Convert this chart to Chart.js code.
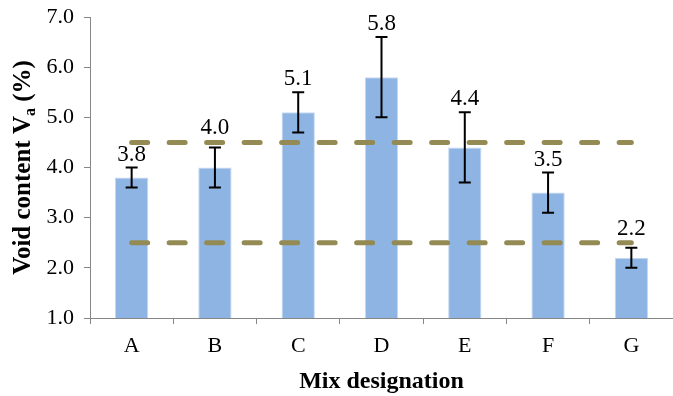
<!DOCTYPE html>
<html>
<head>
<meta charset="utf-8">
<script src="https://cdn.jsdelivr.net/npm/chart.js@4"></script>
<style>
  html, body { margin: 0; padding: 0; background: #fff; }
  #wrap { width: 673px; height: 396px; }
</style>
</head>
<body>
<div id="wrap"><canvas id="voidChart"></canvas></div>
<script>
const mixes = ['A', 'B', 'C', 'D', 'E', 'F', 'G'];
const voidContent = [3.8, 4.0, 5.1, 5.8, 4.4, 3.5, 2.2];
const voidError = [0.2, 0.4, 0.4, 0.8, 0.7, 0.4, 0.2];
const upperLimit = [4.5, 4.5, 4.5, 4.5, 4.5, 4.5, 4.5];
const lowerLimit = [2.5, 2.5, 2.5, 2.5, 2.5, 2.5, 2.5];

const serif = "'Liberation Serif', 'Times New Roman', serif";

// error bars + value labels drawn over the bars
const errorBars = {
  id: 'errorBars',
  afterDatasetsDraw(chart) {
    const ctx = chart.ctx;
    const yScale = chart.scales.y;
    const meta = chart.getDatasetMeta(0);
    const limits = [upperLimit[0], lowerLimit[0]].map(v => yScale.getPixelForValue(v));
    ctx.save();
    ctx.strokeStyle = '#000';
    ctx.lineWidth = 2;
    meta.data.forEach((bar, i) => {
      const x = bar.x;
      const top = yScale.getPixelForValue(voidContent[i] + voidError[i]);
      const bot = yScale.getPixelForValue(voidContent[i] - voidError[i]);
      ctx.beginPath();
      ctx.moveTo(x, top); ctx.lineTo(x, bot);
      ctx.moveTo(x - 6, top); ctx.lineTo(x + 6, top);
      ctx.moveTo(x - 6, bot); ctx.lineTo(x + 6, bot);
      ctx.stroke();
      // keep the label clear of the dashed limit lines
      let base = top - 7;
      limits.forEach(ly => {
        if (ly + 3 > base - 14 && ly - 3 < base) base = ly - 8;
      });
      ctx.fillStyle = '#000';
      ctx.font = '23px ' + serif;
      ctx.textAlign = 'center';
      ctx.textBaseline = 'alphabetic';
      ctx.fillText(voidContent[i].toFixed(1), x, base);
    });
    ctx.restore();
  }
};

// y title with subscript "a"
const yTitle = {
  id: 'yTitle',
  afterDraw(chart) {
    const ctx = chart.ctx;
    const area = chart.chartArea;
    const big = 'bold 25px ' + serif;
    const small = 'bold 16px ' + serif;
    const p1 = 'Void content V', p2 = 'a', p3 = ' (%)';
    ctx.save();
    ctx.font = big;
    const w1 = ctx.measureText(p1).width, w3 = ctx.measureText(p3).width;
    ctx.font = small;
    const w2 = ctx.measureText(p2).width;
    const total = w1 + w2 + w3;
    ctx.translate(30, (area.top + area.bottom) / 2);
    ctx.rotate(-Math.PI / 2);
    ctx.fillStyle = '#000';
    ctx.textBaseline = 'alphabetic';
    ctx.textAlign = 'left';
    let x = -total / 2;
    ctx.font = big; ctx.fillText(p1, x, 0); x += w1;
    ctx.font = small; ctx.fillText(p2, x, 5); x += w2;
    ctx.font = big; ctx.fillText(p3, x, 0);
    ctx.restore();
  }
};

new Chart(document.getElementById('voidChart'), {
  type: 'bar',
  data: {
    labels: mixes,
    datasets: [
      {
        label: 'Void content',
        data: voidContent,
        backgroundColor: '#8DB4E2',
        borderColor: '#C6D9F1',
        borderWidth: 1,
        barPercentage: 0.4,
        categoryPercentage: 1.0,
        order: 2
      },
      {
        type: 'line',
        label: 'Upper limit',
        data: upperLimit,
        borderColor: '#948A54',
        borderWidth: 5,
        borderDash: [16, 21.5],
        borderCapStyle: 'round',
        pointRadius: 0,
        fill: false,
        order: 1
      },
      {
        type: 'line',
        label: 'Lower limit',
        data: lowerLimit,
        borderColor: '#948A54',
        borderWidth: 5,
        borderDash: [16, 21.5],
        borderCapStyle: 'round',
        pointRadius: 0,
        fill: false,
        order: 1
      }
    ]
  },
  options: {
    responsive: true,
    maintainAspectRatio: false,
    animation: false,
    layout: { padding: { top: 17, right: 0, left: 0, bottom: 0 } },
    plugins: {
      legend: { display: false },
      tooltip: { enabled: false }
    },
    scales: {
      x: {
        offset: true,
        grid: {
          offset: true,
          drawOnChartArea: false,
          drawTicks: true,
          tickLength: 6,
          color: '#868686'
        },
        border: { color: '#868686', width: 1 },
        ticks: { color: '#000', font: { family: serif, size: 22 }, padding: 9 },
        title: {
          display: true,
          text: 'Mix designation',
          color: '#000',
          font: { family: serif, size: 24, weight: 'bold' },
          padding: { top: 0, bottom: 0 }
        },
        afterFit(scale) {
          scale.height = 78;
          scale.paddingLeft = 0;
          scale.paddingRight = 0;
        }
      },
      y: {
        min: 1,
        max: 7,
        ticks: {
          stepSize: 1,
          color: '#000',
          font: { family: serif, size: 22 },
          padding: 10,
          callback: v => v.toFixed(1)
        },
        grid: {
          drawOnChartArea: false,
          drawTicks: true,
          tickLength: 6,
          color: '#868686'
        },
        border: { color: '#868686', width: 1 },
        afterFit(scale) {
          scale.width = 90;
          scale.paddingTop = 0;
          scale.paddingBottom = 0;
        }
      }
    }
  },
  plugins: [errorBars, yTitle]
});
</script>
</body>
</html>
